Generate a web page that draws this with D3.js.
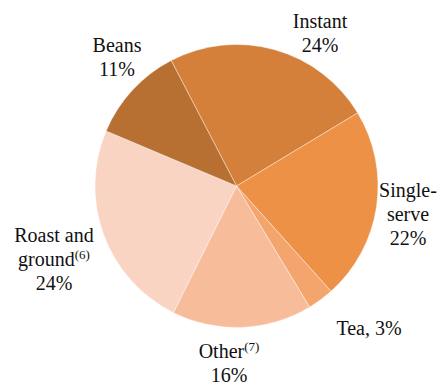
<!DOCTYPE html>
<html><head><meta charset="utf-8">
<script src="https://cdn.jsdelivr.net/npm/d3@7"></script>
<style>html,body{margin:0;padding:0;background:#fff;}svg{display:block;}</style>
</head><body>
<svg id="chart" width="443" height="385"></svg>
<script>
const categories = ["Instant", "Single-serve", "Tea", "Other", "Roast and ground", "Beans"];
const values = [24, 22, 3, 16, 24, 11];
const colors = ["#D4803A", "#EC9145", "#F4A56E", "#F7BC9A", "#F9D4C3", "#B76F32"];
// label lines: [text, superscript]
const labelLines = [
  [["Instant",""],["24%",""]],
  [["Single-",""],["serve",""],["22%",""]],
  [["Tea, 3%",""]],
  [["Other","(7)"],["16%",""]],
  [["Roast and",""],["ground","(6)"],["24%",""]],
  [["Beans",""],["11%",""]]
];
const labelPos = [[320,28],[408,197],[369,335],[229,358],[54,242],[117,52]];

const svg = d3.select("#chart");
const cx = 236.5, cy = 186, r = 141.5;
const start = -27.5 * Math.PI / 180;
const pie = d3.pie().sort(null).value(d => d).startAngle(start).endAngle(start + 2*Math.PI);
const arc = d3.arc().innerRadius(0).outerRadius(r);
const g = svg.append("g").attr("transform", `translate(${cx},${cy})`);
g.selectAll("path").data(pie(values)).join("path")
  .attr("d", arc).attr("fill", (d,i) => colors[i])
  .attr("stroke", "#ffffff").attr("stroke-width", 0.4);

const lab = svg.append("g");
categories.forEach((c, i) => {
  const [x, y] = labelPos[i];
  labelLines[i].forEach((ln, j) => {
    const t = lab.append("text")
      .attr("font-family", "Liberation Serif, Tinos, DejaVu Serif, Noto Serif, serif")
      .attr("font-size", 20).attr("fill", "#111")
      .attr("x", x).attr("y", y + j*24).attr("text-anchor", "middle");
    t.append("tspan").text(ln[0]);
    if (ln[1]) t.append("tspan").attr("font-size", 13).attr("dy", -7).text(ln[1]);
  });
});
</script>
</body></html>
